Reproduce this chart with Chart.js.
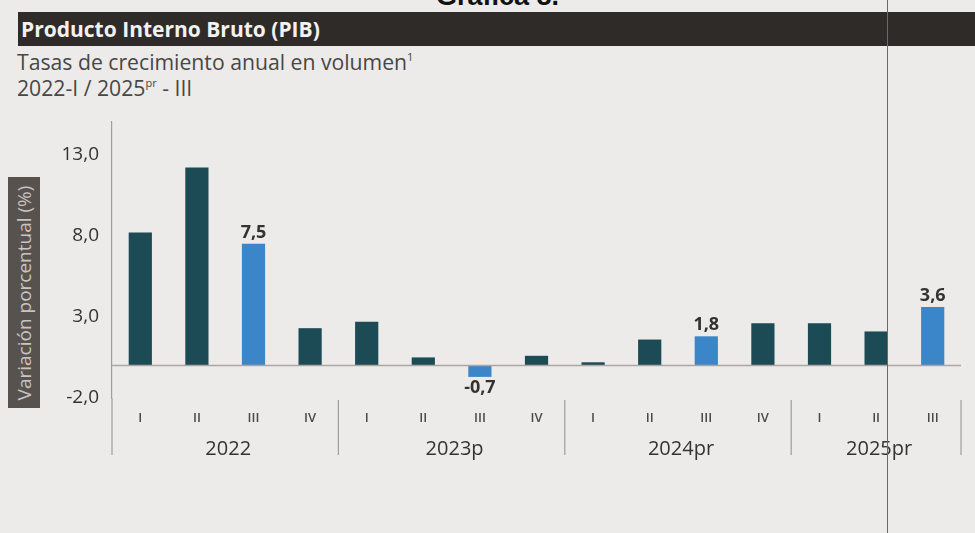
<!DOCTYPE html>
<html>
<head>
<meta charset="utf-8">
<script src="https://cdn.jsdelivr.net/npm/chart.js@4.4.1/dist/chart.umd.min.js"></script>
<style>
  html, body { margin:0; padding:0; width:975px; height:533px; overflow:hidden; background:#ecebea; font-family:"Open Sans", sans-serif; }
  #wrap { position:absolute; left:0; top:0; width:975px; height:533px; }
  #topcap { position:absolute; left:0; top:-19px; width:975px; text-align:center; font-weight:bold; font-size:27px; color:#111; font-family:"Liberation Sans", Arial, sans-serif; padding-left:20px; box-sizing:border-box; }
  #titlebar { position:absolute; left:18px; top:12px; width:957px; height:34px; background:#2f2b29; color:#f2f2f2; font-weight:700; font-size:21px; line-height:34px; padding-left:3px; box-sizing:border-box; }
  #sub1 { position:absolute; left:17px; top:47px; font-size:21.2px; color:#474747; }
  #sub2 { position:absolute; left:17px; top:73px; font-size:21.2px; color:#474747; }
  #sub1 sup, #sub2 sup { font-size:11px; vertical-align:9px; }
  #ybox { position:absolute; left:8px; top:177px; width:32px; height:231px; background:#58524f; }
  #ylab { position:absolute; left:24px; top:293px; transform:translate(-50%,-50%) rotate(-90deg); white-space:nowrap; color:#c9c4c1; font-size:19px; }
  #fold { position:absolute; left:887px; top:0; width:1px; height:533px; background:#6a6a6a; }
  canvas { position:absolute; left:0; top:0; }
</style>
</head>
<body>
<div id="wrap">
  <div id="topcap">Gráfica 8.</div>
  <div id="titlebar">Producto Interno Bruto (PIB)</div>
  <div id="sub1">Tasas de crecimiento anual en volumen<sup>1</sup></div>
  <div id="sub2">2022-I / 2025<sup>pr</sup> - III</div>
  <div id="ybox"></div>
  <div id="ylab">Variación porcentual (%)</div>
  <canvas id="c" width="975" height="533"></canvas>
  <div id="fold"></div>
</div>
<script>
const quarters = ["I","II","III","IV","I","II","III","IV","I","II","III","IV","I","II","III"];
const years = ["2022","2023p","2024pr","2025pr"];
const yearGroupSizes = [4,4,4,3];
const values = [8.2, 12.2, 7.5, 2.3, 2.7, 0.5, -0.7, 0.6, 0.2, 1.6, 1.8, 2.6, 2.6, 2.1, 3.6];
const highlighted = [2, 6, 10, 14];
const yTicks = [-2, 3, 8, 13];

const darkColor = "#1d4b55";
const lightColor = "#3b86c9";
const fmt = v => v.toFixed(1).replace('.', ',');

const decorPlugin = {
  id: 'decor',
  afterDatasetsDraw(chart) {
    const ctx = chart.ctx;
    const x = chart.scales.x, y = chart.scales.y;
    const area = chart.chartArea;
    const y0 = y.getPixelForValue(0);
    ctx.save();
    ctx.strokeStyle = "#aaa7a2";
    ctx.lineWidth = 1.4;
    ctx.beginPath();
    ctx.moveTo(area.left, y0);
    ctx.lineTo(area.right, y0);
    ctx.stroke();
    // data labels
    ctx.fillStyle = "#333";
    ctx.font = "bold 18px 'Open Sans'";
    ctx.textAlign = "center";
    highlighted.forEach(i => {
      const v = values[i];
      const px = x.getPixelForValue(i);
      const py = y.getPixelForValue(v);
      if (v >= 0) { ctx.textBaseline = "bottom"; ctx.fillText(fmt(v), px, py - 2); }
      else { ctx.textBaseline = "top"; ctx.fillText(fmt(v), px, py + 2); }
    });
    // group separators and year labels
    ctx.strokeStyle = "#a09e9c";
    ctx.lineWidth = 1.2;
    let start = 0;
    const half = (x.getPixelForValue(1) - x.getPixelForValue(0)) / 2;
    const sepTop = area.bottom + 2, sepBot = area.bottom + 57;
    ctx.beginPath(); ctx.moveTo(area.left, area.bottom); ctx.lineTo(area.left, sepBot); ctx.stroke();
    years.forEach((yr, gi) => {
      const n = yearGroupSizes[gi];
      const first = x.getPixelForValue(start);
      const last = x.getPixelForValue(start + n - 1);
      const right = last + half;
      ctx.beginPath(); ctx.moveTo(right, sepTop); ctx.lineTo(right, sepBot); ctx.stroke();
      ctx.fillStyle = "#333";
      ctx.font = "20px 'Open Sans'";
      ctx.textAlign = "center";
      ctx.textBaseline = "middle";
      ctx.fillText(yr, (first + last) / 2 + 3, area.bottom + 51);
      start += n;
    });
    ctx.restore();
  }
};

new Chart(document.getElementById('c'), {
  type: 'bar',
  data: {
    labels: quarters,
    datasets: [{
      data: values,
      backgroundColor: values.map((v, i) => highlighted.includes(i) ? lightColor : darkColor),
      barPercentage: 0.82,
      categoryPercentage: 0.5
    }]
  },
  options: {
    responsive: false,
    animation: false,
    devicePixelRatio: 1,
    layout: { padding: { top: 122, right: 14, left: 0, bottom: 0 } },
    plugins: { legend: { display: false }, tooltip: { enabled: false } },
    scales: {
      x: {
        grid: { display: false, drawTicks: false },
        border: { display: false },
        ticks: { color: "#4a4a4a", font: { family: "Open Sans", size: 13, weight: "600" }, padding: 12, maxRotation: 0, autoSkip: false },
        afterFit(s) { s.height = 135; }
      },
      y: {
        min: -2, max: 15,
        grid: { display: false, drawTicks: false },
        border: { display: true, color: "#a09e9c", width: 1.2 },
        afterBuildTicks(s) { s.ticks = yTicks.map(v => ({ value: v })); },
        ticks: { color: "#333", font: { family: "Open Sans", size: 19 }, padding: 13, callback: v => fmt(v) },
        afterFit(s) { s.width = 112; }
      }
    }
  },
  plugins: [decorPlugin]
});
</script>
</body>
</html>
